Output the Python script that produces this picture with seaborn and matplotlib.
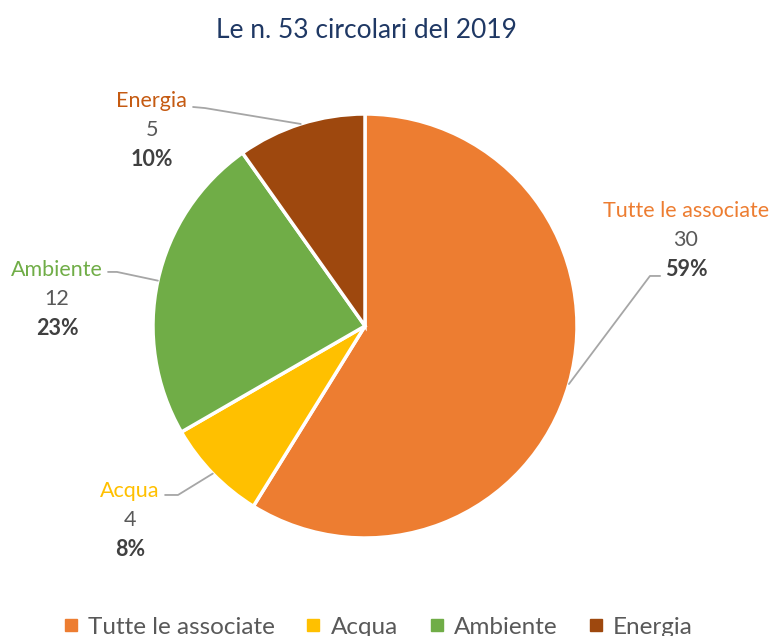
import numpy as np
import matplotlib.pyplot as plt
import seaborn as sns
from matplotlib.lines import Line2D

# data
categories = ['Tutte le associate', 'Acqua', 'Ambiente', 'Energia']
counts = [30, 4, 12, 5]
pct_labels = ['59%', '8%', '23%', '10%']
colors = ['#ED7D31', '#FFC000', '#70AD47', '#9E480E']
label_colors = ['#ED7D31', '#FFC000', '#70AD47', '#C55A11']
title = 'Le n. 53 circolari del 2019'

sns.set_theme(style='white')
plt.rcParams['font.family'] = ['Lato', 'DejaVu Sans']

fig = plt.figure(figsize=(7.71, 6.36), dpi=100)
ax = fig.add_axes([65 / 771, 10 / 636, 600 / 771, 600 / 636])

wedges, _ = ax.pie(counts, colors=colors, startangle=90, counterclock=False,
                   wedgeprops=dict(edgecolor='white', linewidth=2.5))
ax.set_xlim(-1.415, 1.415)
ax.set_ylim(-1.415, 1.415)
ax.set_aspect('equal')
ax.axis('off')

# label block positions (x, y of category name) and leader line knee points
label_pos = [(1.514, 0.542), (-1.108, -0.778), (-1.453, 0.264), (-1.005, 1.061)]
knees = [[(1.392, 0.236), (1.344, 0.236)],
         [(-0.943, -0.797), (-0.882, -0.797)],
         [(-1.212, 0.255), (-1.17, 0.255)],
         [(-0.811, 1.033), (-0.755, 1.028)]]

for w, name, n, pct, (lx, ly), kn, lc in zip(wedges, categories, counts, pct_labels,
                                              label_pos, knees, label_colors):
    mid = np.deg2rad((w.theta1 + w.theta2) / 2)
    px, py = np.cos(mid), np.sin(mid)
    xs = [kn[0][0], kn[1][0], px]
    ys = [kn[0][1], kn[1][1], py]
    ax.plot(xs, ys, color='#A6A6A6', lw=1.3, clip_on=False)
    ax.text(lx, ly, name, ha='center', va='center', fontsize=15.5, color=lc)
    ax.text(lx, ly - 0.138, str(n), ha='center', va='center', fontsize=15.5, color='#595959')
    ax.text(lx, ly - 0.277, pct, ha='center', va='center', fontsize=15.5,
            color='#404040', fontweight='bold')

fig.text(366 / 771, 1 - 30 / 636, title, ha='center', va='center', fontsize=19,
         color='#1F3864')

handles = [Line2D([], [], marker='s', linestyle='', markersize=8, color=c) for c in colors]
fig.legend(handles, categories, loc='center', bbox_to_anchor=(377 / 771, 1 - 627 / 636), ncol=4,
           frameon=False, handletextpad=0.3, columnspacing=1.2, handlelength=0.8,
           prop=dict(size=17.5), labelcolor='#595959')

fig.savefig('out.png', dpi=100)
